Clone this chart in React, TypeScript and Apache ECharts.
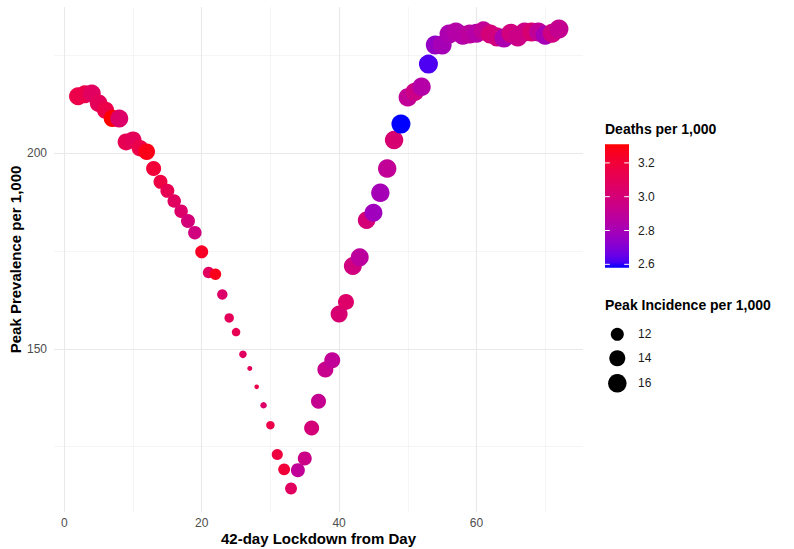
import React, { useEffect, useRef } from "react";
import * as echarts from "echarts";

// ---- Data ----
const days = [
  2, 3, 4, 5, 6, 7, 8, 9, 10, 11, 12, 13, 14, 15, 16, 17, 18, 19, 20, 21, 22, 23, 24, 25, 26, 27,
  28, 29, 30, 31, 32, 33, 34, 35, 36, 37, 38, 39, 40, 41, 42, 43, 44, 45, 46, 47, 48, 49, 50, 51,
  52, 53, 54, 55, 56, 57, 58, 59, 60, 61, 62, 63, 64, 65, 66, 67, 68, 69, 70, 71, 72,
];
const prevalence = [
  214.6, 215.1, 215.3, 212.8, 211.0, 208.9, 208.9, 202.9, 203.4, 201.3, 200.4, 196.1, 192.7, 190.4,
  187.8, 185.2, 182.7, 179.7, 174.8, 169.5, 169.1, 163.9, 157.9, 154.3, 148.6, 145.0, 140.3, 135.6,
  130.5, 123.0, 119.2, 114.3, 119.0, 122.0, 129.8, 136.6, 144.7, 147.1, 158.9, 162.0, 171.2, 173.4,
  182.9, 184.8, 189.9, 196.1, 203.4, 207.5, 214.3, 215.7, 217.0, 222.8, 227.7, 227.7, 230.5, 231.0,
  230.2, 230.5, 230.7, 231.3, 230.5, 229.7, 229.5, 230.7, 229.7, 231.0, 231.0, 231.0, 230.2, 230.7,
  231.8,
];
const incidence = [
  15.6, 15.6, 15.6, 15.3, 15.0, 15.0, 15.6, 14.8, 14.8, 14.4, 14.4, 13.3, 12.6, 12.6, 12.3, 12.3,
  12.6, 12.3, 12.0, 11.2, 11.2, 10.7, 10.3, 9.95, 9.65, 9.15, 9.1, 9.4, 9.95, 11.0, 11.4, 11.4,
  12.6, 12.6, 13.3, 13.3, 14.0, 14.0, 14.8, 14.0, 15.6, 15.6, 15.2, 15.6, 16.0, 16.0, 16.0, 16.5,
  16.0, 16.0, 16.0, 16.5, 16.5, 16.5, 16.5, 16.5, 16.5, 16.5, 16.5, 16.5, 16.5, 16.5, 16.5, 16.5,
  16.5, 16.5, 16.5, 16.5, 16.5, 16.5, 16.5,
];
const deaths = [
  3.15, 3.15, 3.08, 3.1, 3.15, 3.31, 3.05, 3.12, 3.1, 3.15, 3.28, 3.2, 3.17, 3.12, 3.08, 3.05,
  3.0, 2.98, 3.25, 3.08, 3.27, 3.05, 3.1, 3.12, 3.08, 3.1, 3.15, 3.05, 3.15, 3.18, 3.2, 3.08,
  2.9, 2.95, 3.0, 2.92, 2.93, 2.9, 3.02, 3.05, 2.98, 2.88, 3.0, 2.78, 2.8, 2.9, 3.02, 2.58,
  2.9, 2.95, 2.85, 2.62, 2.75, 2.8, 2.82, 2.85, 2.85, 2.88, 2.85, 2.9, 3.0, 2.98, 2.82, 2.98,
  2.95, 2.95, 3.02, 2.9, 2.8, 2.97, 2.92,
];
const xTickLabels = [0, 20, 40, 60];
const yTickLabels = [150, 200];
const xGridMajor = [0, 20, 40, 60];
const xGridMinor = [10, 30, 50, 70];
const yGridMajor = [150, 200];
const yGridMinor = [125, 175, 225];
const colourBreaks = [3.2, 3.0, 2.8, 2.6];
const sizeBreaks = [12, 14, 16];

// ---- Lab colour interpolation (blue -> red, like ggplot's gradient) ----
function toLin(c: number) {
  c /= 255;
  return c <= 0.04045 ? c / 12.92 : Math.pow((c + 0.055) / 1.055, 2.4);
}
function fromLin(c: number) {
  const v = c <= 0.0031308 ? 12.92 * c : 1.055 * Math.pow(c, 1 / 2.4) - 0.055;
  return Math.round(Math.max(0, Math.min(1, v)) * 255);
}
const WX = 0.95047, WY = 1.0, WZ = 1.08883;
function rgbToLab(r: number, g: number, b: number) {
  const R = toLin(r), G = toLin(g), B = toLin(b);
  const X = (0.4124 * R + 0.3576 * G + 0.1805 * B) / WX;
  const Y = (0.2126 * R + 0.7152 * G + 0.0722 * B) / WY;
  const Z = (0.0193 * R + 0.1192 * G + 0.9505 * B) / WZ;
  const f = (t: number) => (t > 0.008856 ? Math.cbrt(t) : 7.787 * t + 16 / 116);
  const fx = f(X), fy = f(Y), fz = f(Z);
  return [116 * fy - 16, 500 * (fx - fy), 200 * (fy - fz)];
}
function labToRgb(L: number, a: number, b: number) {
  const fy = (L + 16) / 116;
  const fx = fy + a / 500;
  const fz = fy - b / 200;
  const inv = (t: number) => (t * t * t > 0.008856 ? t * t * t : (t - 16 / 116) / 7.787);
  const X = inv(fx) * WX, Y = inv(fy) * WY, Z = inv(fz) * WZ;
  const R = 3.2406 * X - 1.5372 * Y - 0.4986 * Z;
  const G = -0.9689 * X + 1.8758 * Y + 0.0415 * Z;
  const B = 0.0557 * X - 0.204 * Y + 1.057 * Z;
  return `rgb(${fromLin(R)},${fromLin(G)},${fromLin(B)})`;
}
const LOW = rgbToLab(0, 0, 255);
const HIGH = rgbToLab(255, 0, 0);
function gradColor(t: number) {
  return labToRgb(
    LOW[0] + (HIGH[0] - LOW[0]) * t,
    LOW[1] + (HIGH[1] - LOW[1]) * t,
    LOW[2] + (HIGH[2] - LOW[2]) * t
  );
}
const STOPS = 24;
const rampColors: string[] = [];
for (let i = 0; i <= STOPS; i++) rampColors.push(gradColor(i / STOPS));

// ---- size mapping (area-like) ----
function pointDiameter(v: number) {
  return 2.7 + 5.95 * Math.sqrt(Math.max(v - 9, 0));
}

export default function App() {
  const ref = useRef<HTMLDivElement>(null);
  useEffect(() => {
    if (!ref.current) return;
    const chart = echarts.init(ref.current, undefined, { renderer: "svg" });
    const dMin = Math.min(...deaths);
    const dMax = Math.max(...deaths);
    const points = days.map((d, i) => [d, prevalence[i], incidence[i], deaths[i]]);

    const font = "'Liberation Sans', Arial, sans-serif";
    const gridLine = (axis: "xAxis" | "yAxis", v: number, major: boolean) => ({
      [axis]: v,
      lineStyle: { color: major ? "#e9e9e9" : "#f2f2f2", width: major ? 1.1 : 0.8, type: "solid" },
    });

    // colour bar geometry
    const cbX = 605, cbY = 144.3, cbW = 24, cbH = 123.4;
    const cbPos = (v: number) => cbY + ((dMax - v) / (dMax - dMin)) * cbH;
    const gradStops = rampColors
      .map((c, i) => ({ offset: 1 - i / STOPS, color: c }))
      .reverse();

    const graphics: any[] = [
      {
        type: "text",
        left: 605,
        top: 122,
        style: { text: "Deaths per 1,000", font: `bold 14px ${font}`, fill: "#000" },
      },
      {
        type: "rect",
        shape: { x: cbX, y: cbY, width: cbW, height: cbH },
        style: {
          fill: new echarts.graphic.LinearGradient(0, 0, 0, 1, gradStops),
        },
      },
    ];
    colourBreaks.forEach((b) => {
      const y = cbPos(b);
      graphics.push(
        { type: "line", shape: { x1: cbX, y1: y, x2: cbX + 4.8, y2: y }, style: { stroke: "#fff", lineWidth: 1 } },
        { type: "line", shape: { x1: cbX + cbW - 4.8, y1: y, x2: cbX + cbW, y2: y }, style: { stroke: "#fff", lineWidth: 1 } },
        {
          type: "text",
          x: 638,
          y,
          style: { text: b.toFixed(1), font: `12px ${font}`, fill: "#1a1a1a", verticalAlign: "middle" },
        }
      );
    });
    graphics.push({
      type: "text",
      left: 605,
      top: 298,
      style: { text: "Peak Incidence per 1,000", font: `bold 14px ${font}`, fill: "#000" },
    });
    const sizeY = [334.3, 358.3, 383.3];
    sizeBreaks.forEach((s, i) => {
      graphics.push(
        {
          type: "circle",
          shape: { cx: 617.3, cy: sizeY[i], r: pointDiameter(s) / 2 },
          style: { fill: "#000" },
        },
        {
          type: "text",
          x: 638,
          y: sizeY[i],
          style: { text: String(s), font: `12px ${font}`, fill: "#1a1a1a", verticalAlign: "middle" },
        }
      );
    });

    chart.setOption({
      animation: false,
      backgroundColor: "#fff",
      textStyle: { fontFamily: font },
      grid: { left: 54, right: 211, top: 7, bottom: 37, containLabel: false, outerBoundsMode: "none" },
      xAxis: {
        type: "value",
        min: -1.5,
        max: 75.5,
        name: "42-day Lockdown from Day",
        nameLocation: "middle",
        nameGap: 19,
        nameMoveOverlap: false,
        nameTextStyle: { fontSize: 15, fontWeight: "bold", color: "#000", fontFamily: font, verticalAlign: "top" },
        axisLine: { show: false },
        axisTick: { show: false },
        splitLine: { show: false },
        axisLabel: {
          customValues: xTickLabels,
          color: "#4d4d4d",
          fontSize: 12,
          margin: 5,
          fontFamily: font,
        },
      },
      yAxis: {
        type: "value",
        min: 108.3,
        max: 237.4,
        name: "Peak Prevalence per 1,000",
        nameLocation: "middle",
        nameGap: 31,
        nameMoveOverlap: false,
        nameRotate: 90,
        nameTextStyle: { fontSize: 15, fontWeight: "bold", color: "#000", fontFamily: font },
        axisLine: { show: false },
        axisTick: { show: false },
        splitLine: { show: false },
        axisLabel: {
          customValues: yTickLabels,
          color: "#4d4d4d",
          fontSize: 12,
          margin: 7,
          fontFamily: font,
        },
      },
      visualMap: {
        show: false,
        type: "continuous",
        dimension: 3,
        seriesIndex: 1,
        min: dMin,
        max: dMax,
        inRange: { color: rampColors },
      },
      series: [
        {
          type: "scatter",
          z: 1,
          silent: true,
          data: [],
          markLine: {
            z: 1,
            silent: true,
            symbol: ["none", "none"],
            label: { show: false },
            animation: false,
            data: [
              ...xGridMinor.map((v) => gridLine("xAxis", v, false)),
              ...yGridMinor.map((v) => gridLine("yAxis", v, false)),
              ...xGridMajor.map((v) => gridLine("xAxis", v, true)),
              ...yGridMajor.map((v) => gridLine("yAxis", v, true)),
            ],
          },
        },
        {
          type: "scatter",
          z: 3,
          data: points,
          symbol: "circle",
          symbolSize: (val: number[]) => pointDiameter(val[2]),
          itemStyle: { opacity: 1 },
        },
      ],
      graphic: graphics,
    });
    return () => chart.dispose();
  }, []);
  return <div ref={ref} style={{ width: 794, height: 549, position: "absolute", left: 0, top: 0 }} />;
}
